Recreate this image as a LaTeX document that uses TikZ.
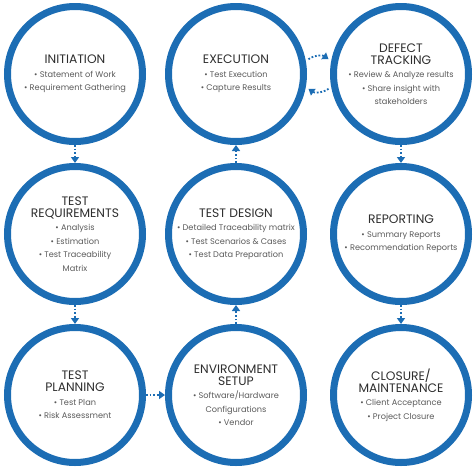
\documentclass[tikz,border=0pt]{standalone}
\usepackage{fontspec}
\setmainfont{Poppins}
\usepackage{xcolor}
\usetikzlibrary{arrows.meta}
\definecolor{ringblue}{HTML}{1C6DB4}
\definecolor{titlegray}{HTML}{2E2E2E}
\definecolor{itemgray}{HTML}{5A5A5A}
\newcommand{\phtitle}[1]{{\fontsize{12.3}{12.5}\selectfont\color{titlegray}#1}}
\newcommand{\phitem}[1]{\textbullet\ #1}

\begin{document}
\begin{tikzpicture}[x=1pt,y=-1pt,
  phase/.style={circle,draw=ringblue,line width=7pt,minimum size=135pt,inner sep=0pt,
    align=center,text=itemgray,font=\fontsize{8.2}{13.5}\selectfont},
  flow/.style={ringblue,line width=1.8pt,dash pattern=on 1.8pt off 1.8pt,
    -{Triangle[width=8pt,length=6pt]}}]
  \useasboundingbox (0,0) rectangle (474,469);
  % top row
  \node[phase] (init) at (75,74) {\phtitle{INITIATION}\\ \phitem{Statement of Work}\\ \phitem{Requirement Gathering}};
  \node[phase] (exec) at (236,74) {\phtitle{EXECUTION}\\ \phitem{Test Execution}\\ \phitem{Capture Results}};
  \node[phase] (defect) at (401,74) {\phtitle{DEFECT}\\[-1.5pt] \phtitle{TRACKING}\\ \phitem{Review \& Analyze results}\\ \phitem{Share insight with}\\ stakeholders};
  % middle row
  \node[phase] (req) at (75,234) {\phtitle{TEST}\\[-1.5pt] \phtitle{REQUIREMENTS}\\ \phitem{Analysis}\\ \phitem{Estimation}\\ \phitem{Test Traceability}\\ Matrix};
  \node[phase] (design) at (236,234) {\phtitle{TEST DESIGN}\\ \phitem{Detailed Traceability matrix}\\ \phitem{Test Scenarios \& Cases}\\ \phitem{Test Data Preparation}};
  \node[phase] (report) at (401,234) {\phtitle{REPORTING}\\ \phitem{Summary Reports}\\ \phitem{Recommendation Reports}};
  % bottom row
  \node[phase] (plan) at (75,395) {\phtitle{TEST}\\[-1.5pt] \phtitle{PLANNING}\\ \phitem{Test Plan}\\ \phitem{Risk Assessment}};
  \node[phase] (env) at (236,395) {\phtitle{ENVIRONMENT}\\[-1.5pt] \phtitle{SETUP}\\ \phitem{Software/Hardware}\\ Configurations\\ \phitem{Vendor}};
  \node[phase] (closure) at (401,395) {\phtitle{CLOSURE/}\\[-1.5pt] \phtitle{MAINTENANCE}\\ \phitem{Client Acceptance}\\ \phitem{Project Closure}};
  % flow
  \draw[flow] (init) -- (req);
  \draw[flow] (req) -- (plan);
  \draw[flow] (plan) -- (env);
  \draw[flow] (env) -- (design);
  \draw[flow] (design) -- (exec);
  \draw[flow] ([xshift=3pt]exec.12) to[bend left=35] ([xshift=-3pt]defect.168);
  \draw[flow] ([xshift=-3pt]defect.-168) to[bend left=35] ([xshift=3pt]exec.-12);
  \draw[flow] (defect) -- (report);
  \draw[flow] (report) -- (closure);
\end{tikzpicture}
\end{document}
